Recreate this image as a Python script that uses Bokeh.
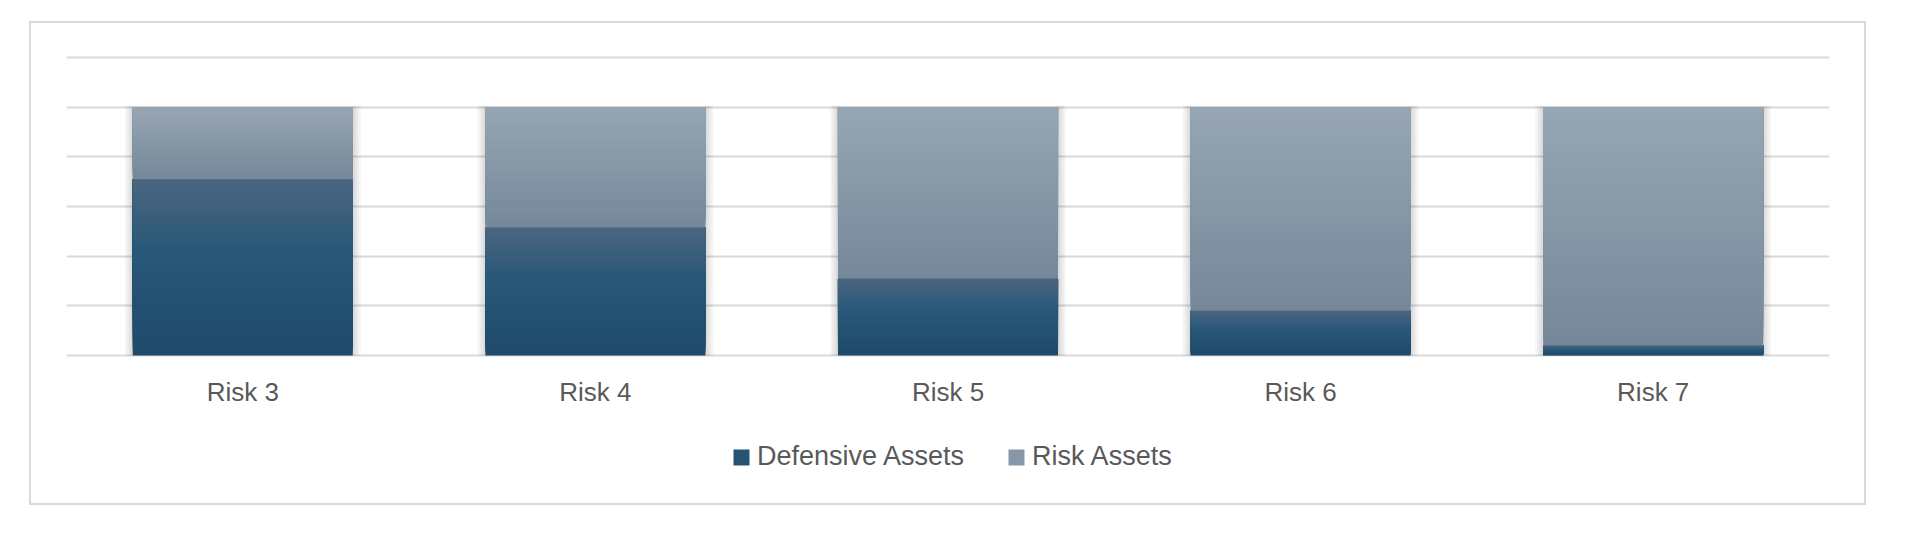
from bokeh.plotting import figure
from bokeh.models import Range1d, FixedTicker, Legend, LegendItem, ColumnDataSource
from bokeh.embed import file_html
from bokeh.resources import INLINE

# ---- data ----
categories = ["Risk 3", "Risk 4", "Risk 5", "Risk 6", "Risk 7"]
defensive = [71, 51.5, 31, 18, 4]
risk_assets = [29, 48.5, 69, 82, 96]
y_ticks = [0, 20, 40, 60, 80, 100, 120]
series_names = ["Defensive Assets", "Risk Assets"]

# ---- style ----
def_stops = [(0.0, "#4b6580"), (0.4, "#2a5878"), (1.0, "#1f4a6a")]
risk_stops = [(0.0, "#97a6b3"), (1.0, "#75889a")]
text_color = "#595959"
font = "Liberation Sans"
bar_w = 0.624
px_x = 1.0 / 352.6          # data units per pixel (x)
px_y = 120.0 / 298.0        # data units per pixel (y)

frame_top_extra = 4         # px above the 120 line
frame_below_zero = 148      # px below the 0 line

def hex2rgb(h):
    h = h.lstrip("#")
    return tuple(int(h[i:i + 2], 16) for i in (0, 2, 4))

def grad(stops, t):
    for (t0, c0), (t1, c1) in zip(stops[:-1], stops[1:]):
        if t <= t1:
            f = 0 if t1 == t0 else (t - t0) / (t1 - t0)
            a, b = hex2rgb(c0), hex2rgb(c1)
            return "#%02x%02x%02x" % tuple(round(a[i] + (b[i] - a[i]) * f) for i in range(3))
    return stops[-1][1]

p = figure(x_range=categories,
           y_range=Range1d(-frame_below_zero * px_y, y_ticks[-1] + frame_top_extra * px_y),
           width=1837, height=484, output_backend="svg", toolbar_location=None,
           min_border_left=35, min_border_right=39, min_border_top=30, min_border_bottom=4,
           margin=(21, 0, 0, 29))
p.styles = {"border": "2px solid #d9d9d9"}
p.outline_line_color = None
p.background_fill_color = "white"
p.border_fill_color = "white"
p.xaxis.visible = False
p.yaxis.visible = False

# shadow behind bars
totals = [d + r for d, r in zip(defensive, risk_assets)]
for e in [8, 6, 4, 2]:
    p.vbar(x=categories, bottom=[0] * len(categories), top=[t + e * 0.08 for t in totals],
           width=bar_w + 2 * e * px_x, fill_color="black", fill_alpha=0.035, line_color=None)

# gradient bars
N = 40
band_renderers = []
for seg_b, seg_h, stops in [([0] * len(categories), defensive, def_stops),
                            (defensive, risk_assets, risk_stops)]:
    xs, bs, ts, cs = [], [], [], []
    for k in range(N):
        for c, b0, h in zip(categories, seg_b, seg_h):
            xs.append(c)
            bs.append(b0 + h * k / N)
            ts.append(b0 + h)
            cs.append(grad(stops, 1 - (k + 0.5) / N))
    src = ColumnDataSource(dict(x=xs, bottom=bs, top=ts, color=cs))
    band_renderers.append(p.vbar(x="x", bottom="bottom", top="top", width=bar_w,
                                 fill_color="color", line_color=None, source=src))

# category labels
p.text(x=categories, y=[0] * len(categories), text=categories, y_offset=36,
       text_align="center", text_baseline="alphabetic",
       text_font={"value": font}, text_font_size={"value": "26px"}, text_color=text_color)

p.xgrid.grid_line_color = None
p.ygrid.ticker = FixedTicker(ticks=y_ticks)
p.ygrid.grid_line_color = "#d9d9d9"
p.ygrid.grid_line_width = 2

# legend swatches use a representative band of each series
legend_bands = [15 * len(categories), 20 * len(categories)]
legend = Legend(items=[LegendItem(label=n, renderers=[r], index=i)
                       for n, r, i in zip(series_names, band_renderers, legend_bands)],
                orientation="horizontal", location=(665, 31),
                border_line_color=None, background_fill_alpha=0,
                label_text_font=font, label_text_font_size="27px", label_text_color=text_color,
                glyph_width=20, glyph_height=20, label_standoff=6, spacing=42,
                padding=0, margin=0, label_height=16)
p.add_layout(legend, "center")

open("out.html", "w").write(file_html(p, INLINE))
